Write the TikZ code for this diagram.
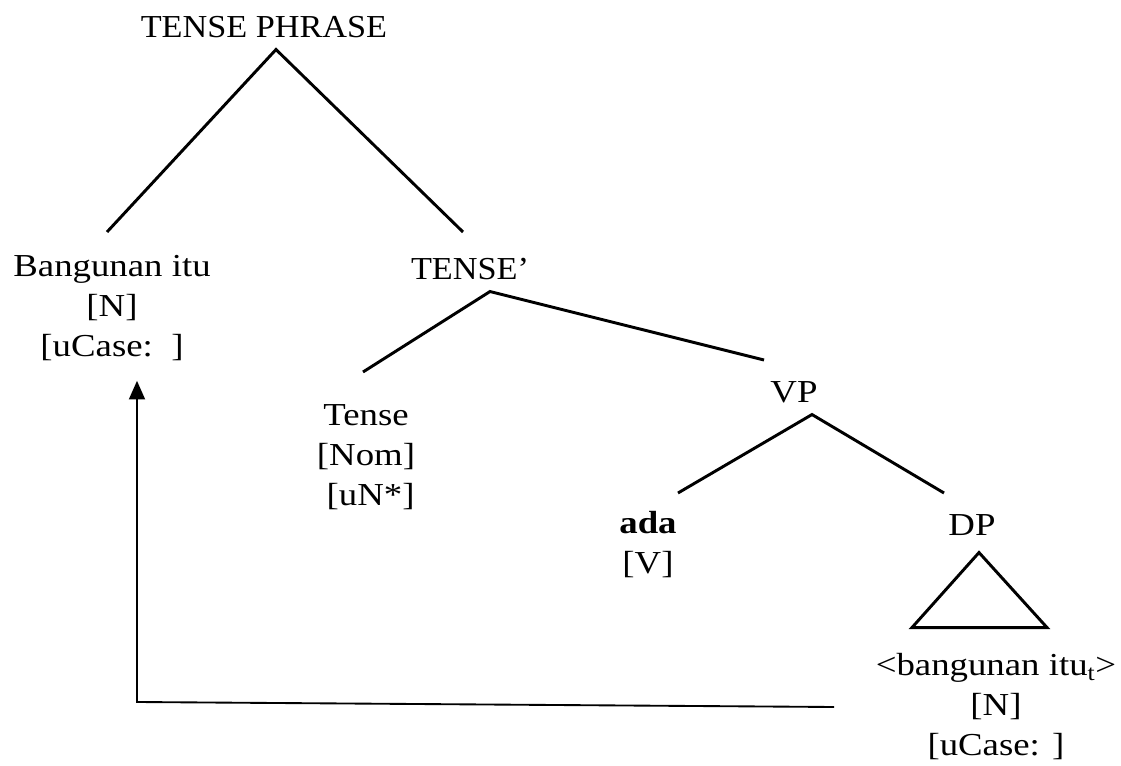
\documentclass[tikz,border=0pt]{standalone}
\usepackage{fontspec}
\setmainfont{Liberation Serif}
\newfontfamily\treefont[FakeStretch=1.15]{Liberation Serif}
\newfontfamily\catfont[FakeStretch=1.07]{Liberation Serif}
\usepackage{tikz}
\usetikzlibrary{arrows.meta}
\tikzset{word/.style={anchor=north,inner sep=0pt,align=center,font={\treefont\fontsize{24}{30}\selectfont}}}
\tikzset{head/.style={word,font={\catfont\fontsize{24}{30}\selectfont}}}
\tikzset{branch/.style={line width=2.2pt}}
\tikzset{movearrow/.style={line width=1.4pt,-{Triangle[width=12pt,length=14pt]}}}

\begin{document}
\begin{tikzpicture}[x=0.75pt,y=-0.75pt]
\useasboundingbox (0,0) rectangle (1121,766);
{
\node[head] (tp) at (264,9) {\strut TENSE PHRASE};
\node[word] (bang) at (112,248) {\strut Bangunan itu\\{[N]}\\{[uCase:~~]}};
\node[head] (tbar) at (470,251) {\strut TENSE’};
\node[word] (tense) at (366,397) {\strut Tense\\{[Nom]}\\{\ [uN*]}};
\node[word] (vp) at (794,374) {\strut VP};
\node[word] (ada) at (648,505) {\strut\textbf{ada}\\{[V]}};
\node[word] (dp) at (972,507) {\strut DP};
\node[word] (trace) at (996,647) {\strut <bangunan itu\textsubscript{t}>\\{[N]}\\{[uCase: ]}};
%branches
\draw[branch] ([xshift=-3.75pt,yshift=12pt]bang.north) -- ([xshift=9pt]tp.south) -- ([xshift=-5.25pt,yshift=14.25pt]tbar.north);
\draw[branch] ([xshift=-2.25pt,yshift=18.75pt]tense.north) -- ([xshift=15pt]tbar.south) -- ([xshift=-22.5pt,yshift=10.5pt]vp.north);
\draw[branch] ([xshift=22.5pt,yshift=9pt]ada.north) -- ([xshift=13.5pt]vp.south) -- ([xshift=-21pt,yshift=10.5pt]dp.north);
\draw[branch] ([xshift=5.25pt,yshift=-3.75pt]dp.south) -- ++(-67,75) -- ++(135,0) -- cycle;
%movement
\coordinate (elbow) at (137,702);
\coordinate (tail) at (834,707);
\draw[movearrow,shorten >=15pt] (tail) -- (elbow) -- (elbow |- bang.south);
}
\end{tikzpicture}
\end{document}
